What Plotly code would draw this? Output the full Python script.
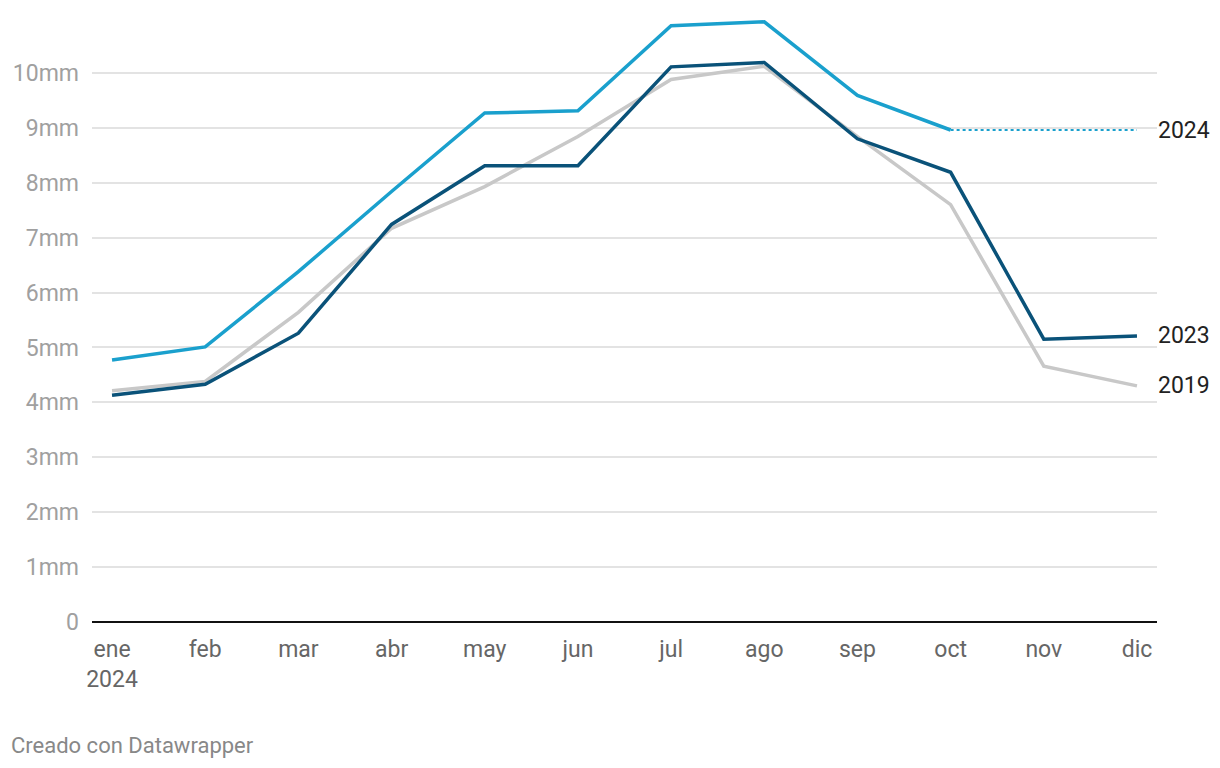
import plotly.graph_objects as go

months = ["ene", "feb", "mar", "abr", "may", "jun", "jul", "ago", "sep", "oct", "nov", "dic"]
tick_labels = ["ene<br>2024", "feb", "mar", "abr", "may", "jun", "jul", "ago", "sep", "oct", "nov", "dic"]

s2019 = [4.21, 4.38, 5.64, 7.17, 7.93, 8.84, 9.88, 10.12, 8.84, 7.60, 4.66, 4.30]
s2023 = [4.13, 4.33, 5.26, 7.24, 8.31, 8.31, 10.11, 10.19, 8.80, 8.19, 5.15, 5.21]
s2024 = [4.77, 5.01, 6.38, 7.84, 9.27, 9.31, 10.86, 10.93, 9.59, 8.96, None, None]
s2024_proj = [None, None, None, None, None, None, None, None, None, 8.96, 8.96, 8.96]

y_ticks = [0, 1, 2, 3, 4, 5, 6, 7, 8, 9, 10]
y_tick_labels = ["0", "1mm", "2mm", "3mm", "4mm", "5mm", "6mm", "7mm", "8mm", "9mm", "10mm"]

C2019 = "#c8c8c8"
C2023 = "#0a5279"
C2024 = "#1aa0cd"

x = list(range(len(months)))

W, H = 1212, 760
L, R, T, B = 84, 63, 10, 146
PW, PH = W - L - R, H - T - B

fig = go.Figure()
fig.add_trace(go.Scatter(x=x, y=s2019, mode="lines", line=dict(color=C2019, width=3.5), hoverinfo="skip"))
fig.add_trace(go.Scatter(x=x, y=s2023, mode="lines", line=dict(color=C2023, width=3.5), hoverinfo="skip"))
fig.add_trace(go.Scatter(x=x, y=s2024_proj, mode="lines", line=dict(color=C2024, width=2, dash="dot"), hoverinfo="skip"))
fig.add_trace(go.Scatter(x=x, y=s2024, mode="lines", line=dict(color=C2024, width=3.5), hoverinfo="skip"))

labels = [("2024", s2024_proj[-1]), ("2023", s2023[-1]), ("2019", s2019[-1])]
for txt, val in labels:
    fig.add_annotation(x=1, xref="paper", y=val, yref="y", text=txt, showarrow=False,
                       xanchor="left", yanchor="middle", xshift=-1,
                       font=dict(family="Roboto", size=23, color="#222222"))

fig.add_annotation(x=(1 - L) / PW, xref="paper", y=-(737 - (T + PH)) / PH, yref="paper",
                   text="Creado con Datawrapper", showarrow=False, xanchor="left", yanchor="middle",
                   font=dict(family="Roboto", size=22, color="#888888"))

fig.update_layout(
    width=W, height=H,
    margin=dict(l=L, r=R, t=T, b=B, autoexpand=False),
    paper_bgcolor="white", plot_bgcolor="white",
    showlegend=False,
    font=dict(family="Roboto"),
    xaxis=dict(
        range=[-0.215, 11.215], tickmode="array", tickvals=x, ticktext=tick_labels,
        showgrid=False, zeroline=False, showline=False, ticks="", automargin=False,
        ticklabelstandoff=11,
        tickfont=dict(size=23, color="#666666"), fixedrange=True,
    ),
    yaxis=dict(
        range=[0, 11.0], tickmode="array", tickvals=y_ticks, ticktext=y_tick_labels,
        showgrid=True, gridcolor="#e3e3e3", gridwidth=1.5,
        zeroline=True, zerolinecolor="#111111", zerolinewidth=2,
        showline=False, ticks="", ticklabelstandoff=12, automargin=False,
        tickfont=dict(size=23, color="#a0a0a0"), fixedrange=True,
    ),
)

fig.write_html("out.html")
